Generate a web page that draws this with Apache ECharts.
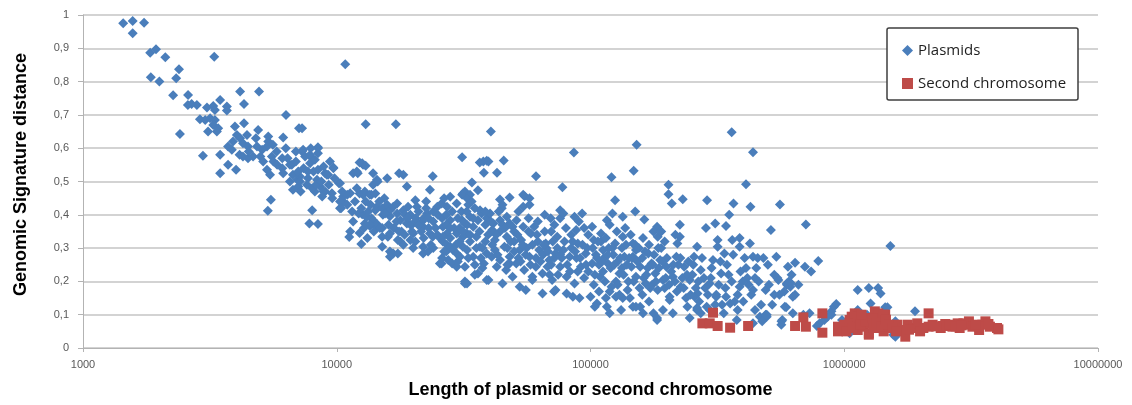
<!DOCTYPE html>
<html>
<head>
<meta charset="utf-8">
<script src="https://cdn.jsdelivr.net/npm/echarts@6/dist/echarts.min.js"></script>
<style>
html,body{margin:0;padding:0;background:#fff;}
#chart{width:1132px;height:405px;}
</style>
</head>
<body>
<div id="chart"></div>
<script>
// ---- data ----
var seriesNames = ['Plasmids', 'Second chromosome'];
var xTickValues = [1000, 10000, 100000, 1000000, 10000000];
var yTickLabels = ['0', '0,1', '0,2', '0,3', '0,4', '0,5', '0,6', '0,7', '0,8', '0,9', '1'];

var plasmids = [
[1440,0.975],[1570,0.982],[1740,0.977],[1570,0.945],
[1840,0.887],[1940,0.897],[2110,0.873],[3290,0.875],
[2390,0.837],[2330,0.81],[1850,0.813],[2000,0.80],
[2265,0.759],[2595,0.76],[2590,0.73],[2810,0.73],[2680,0.733],
[4160,0.77],[4940,0.77],[4310,0.733],[3470,0.745],[3690,0.725],[3690,0.713],
[3080,0.722],[3260,0.727],[3310,0.715],
[2890,0.687],[3030,0.685],[3170,0.69],[3310,0.685],[3260,0.67],[3410,0.66],[3110,0.65],[3370,0.65],
[2410,0.643],[6310,0.70],[7100,0.66],[3970,0.665],[4310,0.675],[4900,0.655],[6150,0.632],
[4040,0.64],[4160,0.63],[4430,0.64],[3900,0.62],[3730,0.605],[3860,0.595],[4270,0.615],[4470,0.605],
[5370,0.635],[5370,0.62],[5310,0.605],[5080,0.595],[4850,0.605],[4680,0.575],[4470,0.57],[5000,0.575],
[5130,0.56],[5550,0.575],[5630,0.56],[6100,0.57],[6100,0.54],[6150,0.525],[5820,0.55],[5310,0.535],
[5460,0.52],[6650,0.55],[6720,0.52],[7000,0.505],[7050,0.485],[7160,0.515],
[3470,0.58],[2970,0.577],[3470,0.525],[3730,0.55],[4010,0.535],[4140,0.58],[4270,0.575],
[5500,0.445],[5350,0.412],
[10800,0.852],[13000,0.672],[17100,0.672],[7300,0.66],[8430,0.60],[10200,0.495],[11600,0.525],[12100,0.525],
[12700,0.55],[12300,0.557],[13900,0.525],[14500,0.50],[15800,0.51],[17600,0.525],
[7300,0.59],[7500,0.575],[8000,0.57],[8430,0.585],[7850,0.555],[7700,0.53],[8430,0.535],[8360,0.505],
[9000,0.525],[9250,0.52],[9700,0.54],[8600,0.485],[9000,0.47],[8200,0.47],[6540,0.50],[6720,0.475],
[7160,0.50],[6540,0.55],[7050,0.53],[11300,0.465],[12700,0.46],[13700,0.46],
[8000,0.414],[7800,0.374],[8430,0.372],[10300,0.42],[10600,0.44],[11300,0.35],[11200,0.333],[12300,0.345],[12500,0.312],
[12600,0.402],[13100,0.394],[13900,0.384],[14400,0.372],[13500,0.366],[14200,0.414],[15200,0.40],[15800,0.414],
[16200,0.396],[15100,0.36],[15900,0.334],[16500,0.284],[15100,0.304],[17300,0.404],[17400,0.324],[13000,0.44],
[31200,0.573],[8430,0.603],[7370,0.595],[7850,0.58],[8200,0.565],[8870,0.545],[9700,0.542],[9140,0.52],
[7630,0.49],[8000,0.48],[8870,0.47],[8760,0.455],[9570,0.465],[10300,0.495],[10600,0.455],[10300,0.44],
[10400,0.42],[11000,0.46],
[12000,0.53],[12600,0.555],[13000,0.547],[14400,0.505],[18300,0.52],[18900,0.485],[23900,0.516],[23300,0.475],
[20400,0.444],[20700,0.424],
[14400,0.424],[15100,0.42],[15800,0.43],[16200,0.414],[16700,0.424],[17300,0.434],[15500,0.404],[18300,0.414],
[19100,0.424],[18600,0.40],[22700,0.404],
[18900,0.374],[19500,0.37],[20000,0.374],[20900,0.37],[21700,0.38],[21900,0.364],[23300,0.344],[23900,0.334],
[24900,0.34],[25500,0.33],[26200,0.32],[27200,0.31],[28000,0.304],[28700,0.294],[29700,0.284],[30600,0.274],
[27500,0.264],[25900,0.254],[28500,0.254],[29700,0.244],[31400,0.304],[32600,0.294],[32000,0.374],[32600,0.344],
[29700,0.344],[27200,0.344],[26200,0.364],[28000,0.384],[27200,0.424],[24900,0.424],[25900,0.434],[28000,0.454],
[29700,0.434],[31200,0.46],[32000,0.47],
[15100,0.334],[16200,0.29],[16700,0.284],[17400,0.284],[16200,0.274],[17800,0.32],[18300,0.31],[19500,0.324],
[20400,0.32],[21900,0.284],[22900,0.29],
[13700,0.39],[14400,0.364],[13500,0.37],[12900,0.374],[12200,0.404],[13100,0.394],[14800,0.36],[12000,0.48],
[12300,0.464],[12900,0.47],[13500,0.46],[14200,0.464],[13900,0.49],[32000,0.20],
[40500,0.65],[36600,0.557],[37800,0.56],[39000,0.562],[39600,0.56],[45500,0.563],[38000,0.526],[42800,0.526],
[34100,0.497],[36000,0.474],[31400,0.464],[33500,0.46],[32600,0.45],[61000,0.516],[77500,0.483],[86000,0.587],
[121000,0.513],[152000,0.61],[148000,0.532],[203000,0.49],[203000,0.462],[231000,0.447],[288000,0.444],
[360000,0.648],[437000,0.588],[410000,0.492],[44000,0.446],[48000,0.452],[55000,0.456],[57500,0.45],
[45000,0.43],[44700,0.42],[54300,0.46],[57500,0.43],[54300,0.424],
[36700,0.414],[37200,0.404],[39000,0.39],[40200,0.404],[36000,0.384],[33500,0.394],[32600,0.37],[31200,0.384],
[34500,0.364],[38500,0.37],[41400,0.374],[41000,0.354],[44000,0.384],[46800,0.394],[45000,0.37],[48000,0.374],
[49300,0.364],[51100,0.384],
[69700,0.39],[75900,0.39],[75900,0.414],[78200,0.404],[86500,0.394],[92700,0.404],[116000,0.384],[125000,0.444],
[122000,0.404],[134000,0.394],[150000,0.41],
[31400,0.334],[33500,0.32],[35500,0.334],[36700,0.304],[38500,0.32],[39000,0.284],[40800,0.274],[42000,0.294],
[42700,0.244],[44000,0.264],[45800,0.304],[46500,0.234],[48000,0.274],[49300,0.214],[51000,0.254],[52600,0.294],
[53300,0.324],[54800,0.234],[57500,0.274],[58200,0.344],[59000,0.204],[60900,0.244],[62800,0.294],[64700,0.224],
[66600,0.314],[68800,0.264],[70600,0.204],[71800,0.17],[73900,0.334],[75900,0.244],[78200,0.294],[80500,0.214],
[82800,0.274],[85200,0.154],[86500,0.194],[89100,0.314],[91700,0.244],[94400,0.21],[95800,0.284],[100000,0.154],
[101500,0.254],[103000,0.324],[106000,0.134],[109000,0.214],[112000,0.294],[116000,0.124],[117000,0.254],
[121000,0.184],[125000,0.314],[126000,0.154],[130000,0.224],[132000,0.114],[136000,0.274],[140000,0.174],
[145000,0.244],[147000,0.124],[151000,0.294],
[32000,0.244],[32000,0.194],[34500,0.274],[36000,0.224],[39600,0.204],[45000,0.194],[55600,0.174],[64700,0.164],
[67700,0.244],[72800,0.284],[60000,0.364],[46800,0.334],[42000,0.324],[54300,0.364],[87800,0.354],[101500,0.364],
[94400,0.36],[110000,0.344],[119000,0.37],[134000,0.334],[137000,0.36],[147000,0.314],
[209000,0.434],[366000,0.434],[427000,0.424],[558000,0.431],[706000,0.371],[514000,0.354],[352000,0.40],
[163000,0.386],[225000,0.37],[285000,0.36],[310000,0.374],[342000,0.366],
[183000,0.364],[177000,0.35],[184000,0.334],[190000,0.35],[196000,0.32],[161000,0.33],[150000,0.31],
[216000,0.34],[225000,0.334],[220000,0.314],[263000,0.304],[317000,0.304],[317000,0.324],[362000,0.324],
[387000,0.33],[425000,0.314],[387000,0.304],[437000,0.274],[456000,0.27],[500000,0.25],[540000,0.274],
[640000,0.256],[700000,0.244],[600000,0.244],[545000,0.21],[594000,0.194],[613000,0.184],[627000,0.154],
[640000,0.16],[583000,0.124],[627000,0.104],[566000,0.08],[490000,0.174],[445000,0.21],[437000,0.174],
[415000,0.21],[387000,0.184],[400000,0.14],[380000,0.114],[445000,0.114],[465000,0.094],[495000,0.094],
[437000,0.074],[355000,0.134],[342000,0.154],[335000,0.104],[377000,0.084],
[147000,0.274],[157000,0.244],[151000,0.214],[169000,0.284],[174000,0.254],[165000,0.194],[180000,0.224],
[188000,0.264],[184000,0.174],[193000,0.204],[199000,0.244],[205000,0.154],[211000,0.214],[218000,0.274],
[227000,0.184],[234000,0.244],[241000,0.124],[246000,0.204],[256000,0.274],[264000,0.164],[272000,0.234],
[287000,0.124],[295000,0.194],[304000,0.264],[313000,0.154],[327000,0.224],[337000,0.284],[263000,0.114],
[272000,0.104],[193000,0.114],[177000,0.104],[157000,0.124],[183000,0.084],[246000,0.09],[295000,0.114],[690000,0.10],
[1520000,0.306],[790000,0.261],[550000,0.204],[555000,0.16],[594000,0.19],[605000,0.2],[615000,0.195],
[590000,0.122],[570000,0.084],[565000,0.07],[490000,0.10],[475000,0.08],
[800000,0.074],[835000,0.084],[860000,0.094],[890000,0.11],[910000,0.124],[930000,0.132],[890000,0.10],[780000,0.066],
[1130000,0.174],[1250000,0.18],[1360000,0.18],[1390000,0.164],[1270000,0.134],[1450000,0.122],[1480000,0.122],
[1130000,0.114],[1230000,0.10],[1900000,0.11],[1590000,0.08],[1560000,0.04],[980000,0.084],[730000,0.104],
[1590000,0.034],[1050000,0.044],
[17800,0.384],[16200,0.344],[21900,0.304],[20000,0.344],[26200,0.334],[25500,0.254],[32600,0.194],[39000,0.204],
[38000,0.254],[48000,0.254],[52600,0.184],[59000,0.214],[72800,0.174],[80500,0.164],[90500,0.15],[104000,0.124],
[119000,0.104],[134000,0.15],[151000,0.124],[183000,0.09],[161000,0.104],[211000,0.104],[205000,0.144],
[263000,0.12],[257000,0.154],[313000,0.16],[495000,0.10],
[35000,0.25],[37000,0.27],[41000,0.31],[43000,0.28],[47000,0.3],[50000,0.32],[52000,0.27],[56000,0.3],
[58000,0.25],[62000,0.32],[65000,0.28],[67000,0.3],[70000,0.25],[74000,0.3],[77000,0.27],[84000,0.3],
[88000,0.27],[97000,0.3],[105000,0.28],[108000,0.25],[113000,0.27],[118000,0.3],[123000,0.28],[128000,0.26],
[133000,0.3],[142000,0.27],[110000,0.32],[98000,0.34],[84000,0.34],[70000,0.35],[50000,0.35],[44000,0.35],
[22000,0.33],[23000,0.36],[24000,0.38],[26000,0.39],[27000,0.37],[29000,0.36],[30000,0.39],[31000,0.41],
[22000,0.39],[21000,0.41],[19500,0.4],[18000,0.35],[20000,0.3],[24000,0.3],[26500,0.29],[30500,0.32],
[28500,0.41],[33000,0.43],[35000,0.42],[34000,0.44],
[10500,0.47],[11000,0.43],[11500,0.41],[11800,0.44],[12500,0.42],[13300,0.41],[13600,0.43],[14700,0.44],
[15400,0.45],[16000,0.37],[16800,0.36],[17200,0.38],[17600,0.35],[18500,0.34],[19000,0.39],[19800,0.35],
[14000,0.35],[13200,0.33],[11600,0.38],[12800,0.36],
[20500,0.39],[21500,0.35],[22500,0.42],[23500,0.31],[24500,0.36],[25000,0.4],[26000,0.27],[27000,0.29],
[28000,0.33],[28000,0.36],[29500,0.31],[30500,0.36],[31500,0.35],[32500,0.41],[33500,0.34],[34500,0.39],
[35500,0.3],[36500,0.35],[37500,0.3],[38500,0.41],[39500,0.34],[33000,0.27],[35000,0.22],[37500,0.24],
[30000,0.26],[27000,0.4],[23000,0.39],[21000,0.37],[24000,0.41],[26500,0.45],[22500,0.44],
[40500,0.38],[42500,0.34],[43500,0.41],[46000,0.36],[47000,0.25],[48500,0.32],[50000,0.29],[51500,0.34],
[53000,0.26],[54000,0.31],[55500,0.28],[57000,0.35],[59000,0.31],[61000,0.27],[61500,0.34],[63500,0.26],
[65500,0.31],[66000,0.35],[68000,0.29],[69000,0.22],[71000,0.32],[72000,0.27],[74500,0.22],[76000,0.28],
[79000,0.32],[81000,0.25],[83000,0.23],[85000,0.32],[87000,0.29],[89000,0.23],[91000,0.27],[93000,0.31],
[96000,0.25],[98000,0.23],[62000,0.38],[66000,0.4],[72000,0.37],[80000,0.36],[90000,0.38],[57000,0.39],[52000,0.41],
[102000,0.3],[104000,0.22],[107000,0.32],[111000,0.26],[114000,0.2],[115000,0.33],[120000,0.24],[122000,0.3],
[126000,0.2],[127000,0.35],[131000,0.27],[135000,0.22],[138000,0.31],[141000,0.2],[144000,0.34],[146000,0.27],
[155000,0.3],[160000,0.27],[166000,0.22],[170000,0.31],[175000,0.19],[178000,0.28],[186000,0.24],[190000,0.3],
[196000,0.18],[200000,0.27],[208000,0.23],[215000,0.2],[222000,0.25],[230000,0.21],[238000,0.15],[243000,0.26],
[160000,0.16],[170000,0.14],[130000,0.16],[115000,0.15],
[252000,0.22],[260000,0.18],[268000,0.14],[280000,0.21],[290000,0.16],[300000,0.24],[320000,0.19],[330000,0.13],
[345000,0.25],[360000,0.2],[370000,0.14],[390000,0.23],[405000,0.27],[420000,0.19],[450000,0.24],[470000,0.13],
[520000,0.13],[530000,0.22],
[5800,0.59],[6400,0.57],[6900,0.56],[6900,0.59],[7400,0.54],[7700,0.51],[8100,0.53],[8300,0.49],
[8700,0.5],[9300,0.49],[9400,0.56],[9800,0.51],[7900,0.6],[6300,0.6],[5600,0.61],[4800,0.63],
[4500,0.59],[7200,0.47],[9600,0.45],
[103000,0.19],[106000,0.27],[108000,0.17],[112000,0.23],[117000,0.28],[119000,0.17],[124000,0.25],[128000,0.19],
[133000,0.24],[139000,0.25],[143000,0.15],[148000,0.2],[153000,0.26],[156000,0.18],[162000,0.21],[164000,0.29],
[168000,0.24],[172000,0.18],[176000,0.25],[181000,0.2],[185000,0.3],[192000,0.26],[198000,0.21],[204000,0.19],
[212000,0.25],[219000,0.17],[226000,0.27],[233000,0.18],[240000,0.22],[248000,0.16],[254000,0.25],[266000,0.2],
[275000,0.27],[283000,0.18],[298000,0.21],[310000,0.13],[325000,0.26],[340000,0.18],[350000,0.22],[365000,0.28],
[380000,0.16],[398000,0.2],[410000,0.24],[430000,0.16],[460000,0.2],[480000,0.27],[505000,0.19],[530000,0.16],
[580000,0.17],[620000,0.22],[660000,0.19],[740000,0.23]
];

var secondChromosomes = [
[276000,0.074],[295000,0.074],[304000,0.106],[317000,0.066],[355000,0.061],[418000,0.066],
[640000,0.066],[690000,0.092],[706000,0.064],[820000,0.104],[820000,0.046],[945000,0.064],[945000,0.05],
[1000000,0.07],[1050000,0.084],[1070000,0.094],[1100000,0.104],[1140000,0.08],[1130000,0.054],[1190000,0.064],
[1230000,0.09],[1250000,0.044],[1270000,0.074],[1320000,0.11],[1360000,0.06],[1370000,0.094],[1410000,0.08],
[1450000,0.10],[1430000,0.05],[1480000,0.064],[1620000,0.07],[1690000,0.054],[1740000,0.034],[1780000,0.07],
[1870000,0.06],[1940000,0.074],[1990000,0.05],[2150000,0.064],[2150000,0.104],[2230000,0.07],[2400000,0.06],
[2500000,0.072],[2670000,0.064],[2800000,0.074],[2850000,0.06],[3000000,0.07],[3100000,0.08],[3200000,0.064],
[3400000,0.054],[3500000,0.07],[3600000,0.08],[3750000,0.064],[4000000,0.06],
[960000,0.06],[1050000,0.074],[1130000,0.094],[1250000,0.04],[1360000,0.104],[1430000,0.10],[1670000,0.054],
[2450000,0.066],[2950000,0.074],[3400000,0.064],[4050000,0.056],
[1020000,0.05],[1080000,0.06],[1160000,0.07],[1210000,0.08],[1290000,0.09],[1300000,0.06],[1340000,0.075],
[1400000,0.065],[1460000,0.085],[1500000,0.07],[1550000,0.06],[1170000,0.1],[1600000,0.05],[1800000,0.055],
[2050000,0.06],[2300000,0.065],[2600000,0.07],[2750000,0.065],[2900000,0.068],[3300000,0.07],[3700000,0.072]
];

// ---- chart ----
var chart = echarts.init(document.getElementById('chart'), null, {renderer: 'canvas'});
var labelFont = {color: '#595959', fontSize: 11, fontFamily: 'Liberation Sans, Arial, sans-serif'};
var titleFont = {color: '#000', fontSize: 18, fontWeight: 'bold', fontFamily: 'Liberation Sans, Arial, sans-serif'};

chart.setOption({
  animation: false,
  backgroundColor: '#ffffff',
  grid: {left: 83, right: 34, top: 15, bottom: 57, containLabel: false},
  xAxis: {
    type: 'log', logBase: 10,
    min: xTickValues[0], max: xTickValues[xTickValues.length - 1],
    name: 'Length of plasmid or second chromosome',
    nameLocation: 'middle', nameGap: 33,
    nameTextStyle: titleFont,
    axisLine: {show: true, lineStyle: {color: '#b3b3b3', width: 1}},
    axisTick: {show: true, length: 4, lineStyle: {color: '#b3b3b3'}},
    axisLabel: Object.assign({margin: 11, formatter: function (v) { return String(Math.round(v)); }}, labelFont),
    splitLine: {show: false},
    minorTick: {show: false}
  },
  yAxis: {
    type: 'value', min: 0, max: 1, interval: 0.1,
    name: 'Genomic Signature distance',
    nameLocation: 'middle', nameGap: 53,
    nameTextStyle: Object.assign({padding: [0, 0, 0, 14]}, titleFont),
    axisLine: {show: true, lineStyle: {color: '#b3b3b3', width: 1}},
    axisTick: {show: true, length: 5, lineStyle: {color: '#b3b3b3'}},
    axisLabel: Object.assign({margin: 14, formatter: function (v) { return yTickLabels[Math.round(v * 10)]; }}, labelFont),
    splitLine: {show: true, lineStyle: {color: '#c4c4c4', width: 1.5}}
  },
  graphic: [{
    type: 'rect', z: 50,
    shape: {x: 887, y: 28, width: 191, height: 72, r: 2},
    style: {fill: '#ffffff', stroke: '#3f3f3f', lineWidth: 1.5}
  }],
  legend: {
    z: 60,
    orient: 'vertical', left: 902, top: 43,
    itemWidth: 11, itemHeight: 11, itemGap: 18,
    padding: 0,
    textStyle: {color: '#1f1f1f', fontSize: 15, lineHeight: 14, fontFamily: 'Open Sans, sans-serif'},
    data: [
      {name: seriesNames[0], icon: 'diamond'},
      {name: seriesNames[1], icon: 'rect'}
    ]
  },
  series: [{
    name: seriesNames[0], type: 'scatter',
    symbol: 'diamond', symbolSize: [10, 10],
    itemStyle: {color: '#4a7ebb', opacity: 1},
    data: plasmids
  }, {
    name: seriesNames[1], type: 'scatter',
    symbol: 'rect', symbolSize: 10,
    itemStyle: {color: '#be4b48', opacity: 1},
    data: secondChromosomes
  }]
});
</script>
</body>
</html>
